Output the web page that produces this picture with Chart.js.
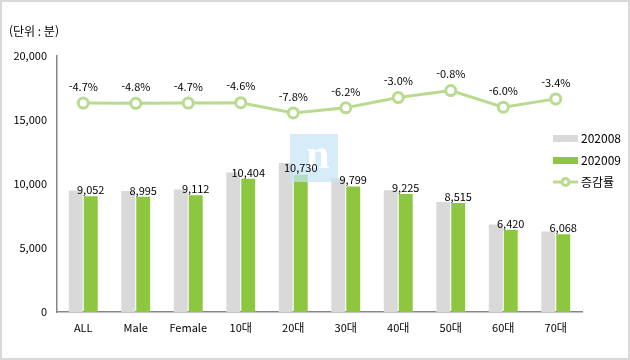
<!DOCTYPE html>
<html lang="ko">
  <head>
    <meta charset="UTF-8" />
    <script src="https://cdn.jsdelivr.net/npm/chart.js@4.4.1/dist/chart.umd.min.js"></script>
    <title>이용시간</title>
    <style>
      body { margin: 0; background: #fff; }
      #wrap { width: 630px; height: 360px; }
    </style>
  </head>
  <body>
    <div id="wrap">
      <canvas id="myChart" width="630" height="360"></canvas>
    </div>
    <script>
      const categories = ["ALL", "Male", "Female", "10대", "20대", "30대", "40대", "50대", "60대", "70대"];
      const aug = [9498, 9449, 9561, 10906, 11638, 10447, 9510, 8584, 6830, 6282];
      const sep = [9052, 8995, 9112, 10404, 10730, 9799, 9225, 8515, 6420, 6068];
      const rate = [-4.7, -4.8, -4.7, -4.6, -7.8, -6.2, -3.0, -0.8, -6.0, -3.4];
      const yTicks = [0, 5000, 10000, 15000, 20000];

      const GREY = "#d9d9d9";
      const GREEN = "#8dc63f";
      const LINE = "#b9db8f";
      const FONT = "'Noto Sans CJK KR', 'Liberation Sans', sans-serif";

      // 배경, 테두리, 단위 표시
      const frame = {
        id: "frame",
        beforeDraw(chart) {
          const c = chart.ctx;
          c.save();
          c.fillStyle = "#fff";
          c.fillRect(0, 0, chart.width, chart.height);
          c.strokeStyle = "#d9d9d9";
          c.lineWidth = 2;
          c.strokeRect(1, 1, chart.width - 2, chart.height - 2);
          c.fillStyle = "#000";
          c.font = "12px " + FONT;
          c.textBaseline = "middle";
          c.fillText("(단위 : 분)", 9, 31);
          c.restore();
        },
      };

      // 워터마크 + 값 라벨 + 범례
      const labels = {
        id: "labels",
        afterDatasetsDraw(chart) {
          const c = chart.ctx;
          c.save();

          // 워터마크
          c.globalAlpha = 0.7;
          c.fillStyle = "#c4e6f7";
          c.fillRect(290, 134, 48, 48);
          c.globalAlpha = 1;
          c.fillStyle = "#fff";
          c.font = "bold 42px 'Liberation Serif', serif";
          c.textAlign = "center";
          c.textBaseline = "alphabetic";
          c.fillText("n", 318, 168);

          c.fillStyle = "#000";
          c.font = "11px " + FONT;
          c.textBaseline = "bottom";
          chart.getDatasetMeta(1).data.forEach((bar, i) => {
            c.fillText(sep[i].toLocaleString("en-US"), bar.x, bar.y - 1);
          });
          chart.getDatasetMeta(2).data.forEach((pt, i) => {
            c.fillText(rate[i].toFixed(1) + "%", pt.x, pt.y - 11);
          });

          // 범례
          const lx = 553, ly = [138, 160, 182];
          c.font = "12px " + FONT;
          c.textAlign = "left";
          c.textBaseline = "middle";
          c.fillStyle = GREY;
          c.fillRect(lx, ly[0] - 3, 25, 7);
          c.fillStyle = GREEN;
          c.fillRect(lx, ly[1] - 3, 25, 7);
          c.strokeStyle = LINE;
          c.lineWidth = 3;
          c.beginPath();
          c.moveTo(lx, ly[2]);
          c.lineTo(lx + 25, ly[2]);
          c.stroke();
          c.fillStyle = "#fff";
          c.beginPath();
          c.arc(lx + 12.5, ly[2], 3.5, 0, Math.PI * 2);
          c.fill();
          c.stroke();
          c.fillStyle = "#000";
          chart.data.datasets.forEach((ds, i) => {
            c.fillText(ds.label, lx + 28, ly[i]);
          });
          c.restore();
        },
      };

      const ctx = document.getElementById("myChart");
      new Chart(ctx, {
        data: {
          labels: categories,
          datasets: [
            {
              type: "bar",
              label: "202008",
              data: aug,
              backgroundColor: GREY,
              categoryPercentage: 0.57,
              barPercentage: 0.93,
              order: 2,
            },
            {
              type: "bar",
              label: "202009",
              data: sep,
              backgroundColor: GREEN,
              categoryPercentage: 0.57,
              barPercentage: 0.93,
              order: 2,
            },
            {
              type: "line",
              label: "증감률",
              data: rate,
              yAxisID: "y1",
              borderColor: LINE,
              borderWidth: 3,
              pointRadius: 5,
              pointBorderWidth: 3,
              pointBackgroundColor: "#fff",
              pointBorderColor: LINE,
              order: 1,
            },
          ],
        },
        options: {
          responsive: false,
          animation: false,
          layout: { padding: { left: 0, top: 56, right: 48, bottom: 0 } },
          plugins: {
            legend: { display: false },
            tooltip: { enabled: false },
          },
          scales: {
            x: {
              grid: { display: false, drawTicks: false },
              border: { color: "#868686", width: 1.5 },
              ticks: { color: "#000", font: { size: 11, family: FONT }, padding: 9 },
              afterFit(s) { s.height = 48; },
            },
            y: {
              min: 0,
              max: 20000,
              afterBuildTicks(s) { s.ticks = yTicks.map((v) => ({ value: v })); },
              grid: { display: false, drawTicks: false },
              border: { color: "#868686", width: 1.5 },
              ticks: {
                color: "#000",
                font: { size: 11, family: FONT },
                padding: 10,
                callback: (v) => v.toLocaleString("en-US"),
              },
              afterFit(s) { s.width = 57; },
            },
            y1: {
              display: false,
              min: -70,
              max: 10,
            },
          },
        },
        plugins: [frame, labels],
      });
    </script>
  </body>
</html>
